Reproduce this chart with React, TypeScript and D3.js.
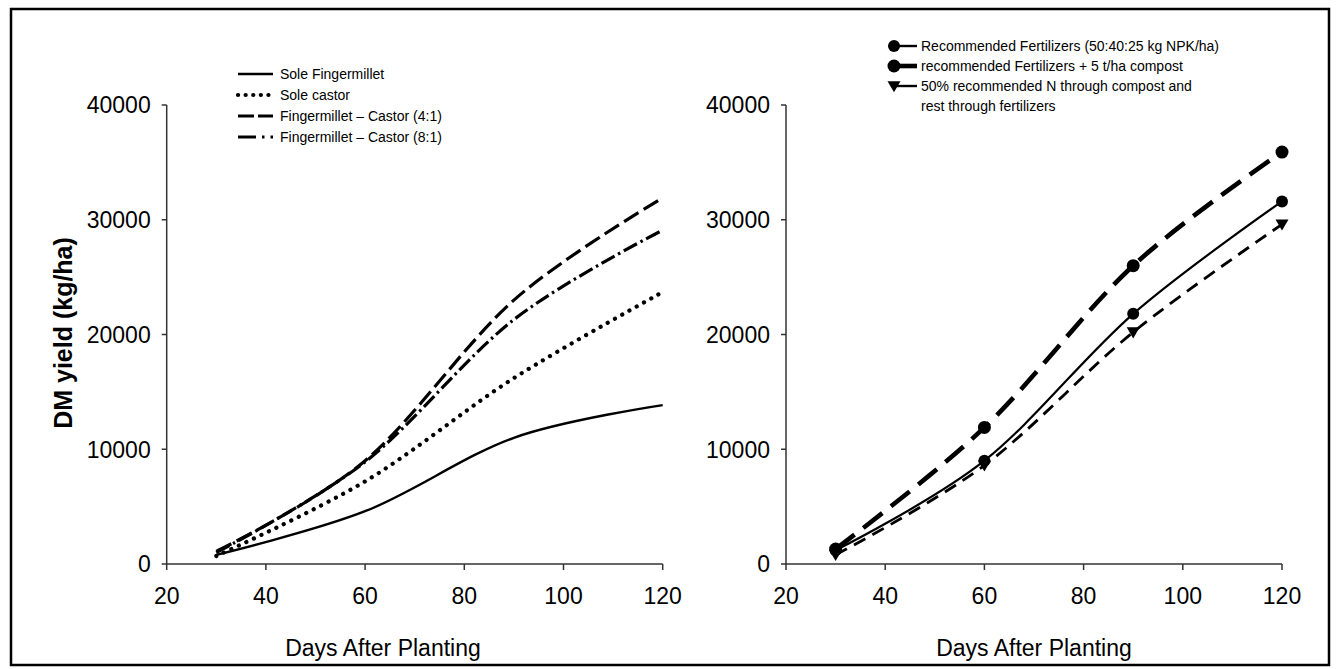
import React from "react";
import * as d3 from "d3";

const days = [30, 60, 90, 120];
const soleFingermillet = [800, 4600, 11000, 13850];
const soleCastor = [700, 7200, 16200, 23700];
const fc41 = [1100, 9000, 23000, 31900];
const fc81 = [1000, 8900, 21300, 29100];

const recFert = [1200, 9000, 21800, 31600];
const recFertCompost = [1300, 11900, 26000, 35900];
const halfNCompost = [800, 8600, 20200, 29600];

const xTicks = [20, 40, 60, 80, 100, 120];
const yTicks = [0, 10000, 20000, 30000, 40000];

const leftNames = ["Sole Fingermillet", "Sole castor", "Fingermillet \u2013 Castor (4:1)", "Fingermillet \u2013 Castor (8:1)"];
const rightNames = ["Recommended Fertilizers (50:40:25 kg NPK/ha)", "recommended Fertilizers + 5 t/ha compost", "50% recommended N through compost and", " rest through fertilizers"];

const FONT = "'Liberation Sans', Arial, Helvetica, sans-serif";

const leftStyles = [
  { w: 2.4, dash: "", cap: "butt" },
  { w: 4.2, dash: "0.1 8.2", cap: "round" },
  { w: 3.2, dash: "17 6", cap: "butt" },
  { w: 3.2, dash: "15 4 2.5 4", cap: "butt" },
];
const rightStyles = [
  { w: 2.2, dash: "", cap: "butt" },
  { w: 4.6, dash: "24 11", cap: "butt" },
  { w: 2.8, dash: "13 8", cap: "butt" },
];

function Axes({ x, y, x0, x1 }: any) {
  const y0 = y(0);
  return (
    <g fontFamily={FONT} fill="#000">
      <line x1={x0} x2={x1} y1={y0} y2={y0} stroke="#333" strokeWidth={1.5} />
      <line x1={x0} x2={x0} y1={y(40000)} y2={y0} stroke="#333" strokeWidth={1.5} />
      {xTicks.map((t) => (
        <g key={"x" + t}>
          <line x1={x(t)} x2={x(t)} y1={y0} y2={y0 + 6} stroke="#333" strokeWidth={1.5} />
          <text x={x(t)} y={604} fontSize={23} textAnchor="middle">{t}</text>
        </g>
      ))}
      {yTicks.map((t) => (
        <g key={"y" + t}>
          <line x1={x0 - 5} x2={x0} y1={y(t)} y2={y(t)} stroke="#333" strokeWidth={1.5} />
          <text x={x0 - 16} y={y(t)} dy="0.36em" fontSize={23} textAnchor="end">{t}</text>
        </g>
      ))}
    </g>
  );
}

function tri(cx: number, cy: number, s: number) {
  return `M${cx - s},${cy - s * 0.75}L${cx + s},${cy - s * 0.75}L${cx},${cy + s * 0.95}Z`;
}

export default function App() {
  const y = d3.scaleLinear().domain([0, 40000]).range([564, 105]);
  const xL = d3.scaleLinear().domain([20, 120]).range([166.7, 662.7]);
  const xR = d3.scaleLinear().domain([20, 120]).range([786, 1282]);
  const curve = d3.curveCardinal.tension(0);
  const lineL = d3.line<number>().x((_, i) => xL(days[i])).y((v) => y(v)).curve(curve);
  const lineR = d3.line<number>().x((_, i) => xR(days[i])).y((v) => y(v)).curve(curve);
  const leftSeries = [soleFingermillet, soleCastor, fc41, fc81];
  const rightSeries = [recFert, recFertCompost, halfNCompost];
  const legL = [74, 95, 116, 137];
  const legR = [46, 66, 86, 106];

  return (
    <svg width={1338} height={669} style={{ position: "absolute", left: 0, top: 0, background: "#fff" }}>
      <rect x={0} y={0} width={1338} height={669} fill="#fff" />
      <rect x={11} y={9} width={1318} height={656} fill="none" stroke="#000" strokeWidth={2.5} />

      <Axes x={xL} y={y} x0={166.7} x1={662.7} />
      <Axes x={xR} y={y} x0={786} x1={1282} />

      <text transform="translate(72,333) rotate(-90)" textAnchor="middle" fontFamily={FONT} fontWeight="bold" fontSize={25}>DM yield (kg/ha)</text>
      <text x={383} y={656} textAnchor="middle" fontFamily={FONT} fontSize={23}>Days After Planting</text>
      <text x={1034} y={656} textAnchor="middle" fontFamily={FONT} fontSize={23}>Days After Planting</text>

      {leftSeries.map((s, i) => (
        <path key={"l" + i} d={lineL(s) || ""} fill="none" stroke="#000" strokeWidth={leftStyles[i].w}
          strokeDasharray={leftStyles[i].dash} strokeLinecap={leftStyles[i].cap as any} />
      ))}

      {rightSeries.map((s, i) => (
        <path key={"r" + i} d={lineR(s) || ""} fill="none" stroke="#000" strokeWidth={rightStyles[i].w}
          strokeDasharray={rightStyles[i].dash} strokeLinecap={rightStyles[i].cap as any} />
      ))}
      {rightSeries.map((s, i) =>
        s.map((v, j) =>
          i === 2 ? (
            <path key={`m${i}-${j}`} d={tri(xR(days[j]), y(v), 6.5)} fill="#000" />
          ) : (
            <circle key={`m${i}-${j}`} cx={xR(days[j])} cy={y(v)} r={i === 1 ? 6.5 : 6} fill="#000" />
          )
        )
      )}

      <g fontFamily={FONT} fontSize={14} fill="#000">
        {leftNames.map((n, i) => (
          <g key={"ll" + i}>
            <line x1={238} x2={273} y1={legL[i]} y2={legL[i]} stroke="#000" strokeWidth={leftStyles[i].w}
              strokeDasharray={i === 1 ? "0.1 7.5" : i === 2 ? "16 4" : i === 3 ? "18 6 2.5 6" : ""}
              strokeLinecap={leftStyles[i].cap as any} />
            <text x={280} y={legL[i]} dy="0.36em">{n}</text>
          </g>
        ))}
        {rightNames.map((n, i) => (
          <g key={"rl" + i}>
            {i < 3 && (
              <line x1={893} x2={917} y1={legR[i]} y2={legR[i]} stroke="#000" strokeWidth={i === 1 ? 4.6 : 2.4} />
            )}
            {i === 0 && <circle cx={894} cy={legR[i]} r={6} fill="#000" />}
            {i === 1 && <circle cx={894} cy={legR[i]} r={6.5} fill="#000" />}
            {i === 2 && <path d={tri(894, legR[i], 6.5)} fill="#000" />}
            <text x={921} y={legR[i]} dy="0.36em">{n}</text>
          </g>
        ))}
      </g>
    </svg>
  );
}
